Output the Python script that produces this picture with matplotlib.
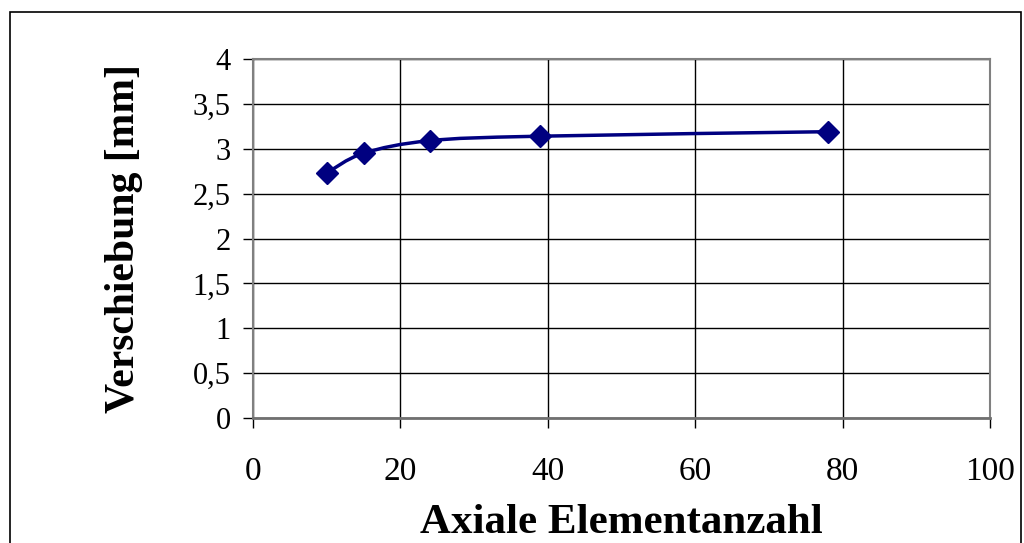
import numpy as np
import matplotlib.pyplot as plt
from matplotlib.path import Path
from matplotlib.patches import PathPatch, Rectangle

# data
elemente = [10, 15, 24, 39, 78]
verschiebung = [2.73, 2.95, 3.09, 3.14, 3.19]
xticks = [0, 20, 40, 60, 80, 100]
yticks = [0, 0.5, 1, 1.5, 2, 2.5, 3, 3.5, 4]
ytick_labels = ['0', '0,5', '1', '1,5', '2', '2,5', '3', '3,5', '4']

plt.rcParams['font.family'] = ['Liberation Serif', 'DejaVu Serif']

fig = plt.figure(figsize=(10.24, 5.43), dpi=100)
ax = fig.add_axes([253 / 1024, 1 - 418 / 543, 737 / 1024, 359 / 543])

# outer chart border
fig.patches.append(Rectangle((10 / 1024, -0.05), 1011 / 1024, 1.05 - 12 / 543,
                             transform=fig.transFigure, fill=False,
                             edgecolor='black', linewidth=1.2))

# smoothed line (Catmull-Rom style bezier, like Excel smoothing)
x = np.array(elemente, dtype=float)
y = np.array(verschiebung, dtype=float)
verts = [(x[0], y[0])]
codes = [Path.MOVETO]
n = len(x)
for i in range(n - 1):
    x0, y0 = (x[i - 1], y[i - 1]) if i > 0 else (x[i], y[i])
    x3, y3 = (x[i + 2], y[i + 2]) if i + 2 < n else (x[i + 1], y[i + 1])
    c1 = (x[i] + (x[i + 1] - x0) / 6, y[i] + (y[i + 1] - y0) / 6)
    c2 = (x[i + 1] - (x3 - x[i]) / 6, y[i + 1] - (y3 - y[i]) / 6)
    verts += [c1, c2, (x[i + 1], y[i + 1])]
    codes += [Path.CURVE4] * 3
ax.add_patch(PathPatch(Path(verts, codes), facecolor='none',
                       edgecolor='#000080', linewidth=2.5, zorder=3))
ax.plot(elemente, verschiebung, linestyle='none', marker='D', markersize=11,
        color='#000080', zorder=4)

ax.set_xlim(0, 100)
ax.set_ylim(0, 4)
ax.set_xticks(xticks)
ax.set_yticks(yticks)
ax.set_yticklabels(ytick_labels)
ax.grid(True, color='black', linewidth=1)
ax.set_axisbelow(True)

for side in ['top', 'right', 'left']:
    ax.spines[side].set_color('#808080')
    ax.spines[side].set_linewidth(1.5)
ax.spines['bottom'].set_color('#707070')
ax.spines['bottom'].set_linewidth(2)

ax.tick_params(axis='both', direction='out', length=7, width=1, color='black')
ax.tick_params(axis='x', pad=21, labelsize=24)
ax.tick_params(axis='y', pad=9, labelsize=22)

ax.set_xlabel('Axiale Elementanzahl', fontsize=31, fontweight='bold', labelpad=12)
ax.set_ylabel('Verschiebung [mm]', fontsize=30, fontweight='bold', labelpad=36)

fig.savefig('out.png', dpi=100)
